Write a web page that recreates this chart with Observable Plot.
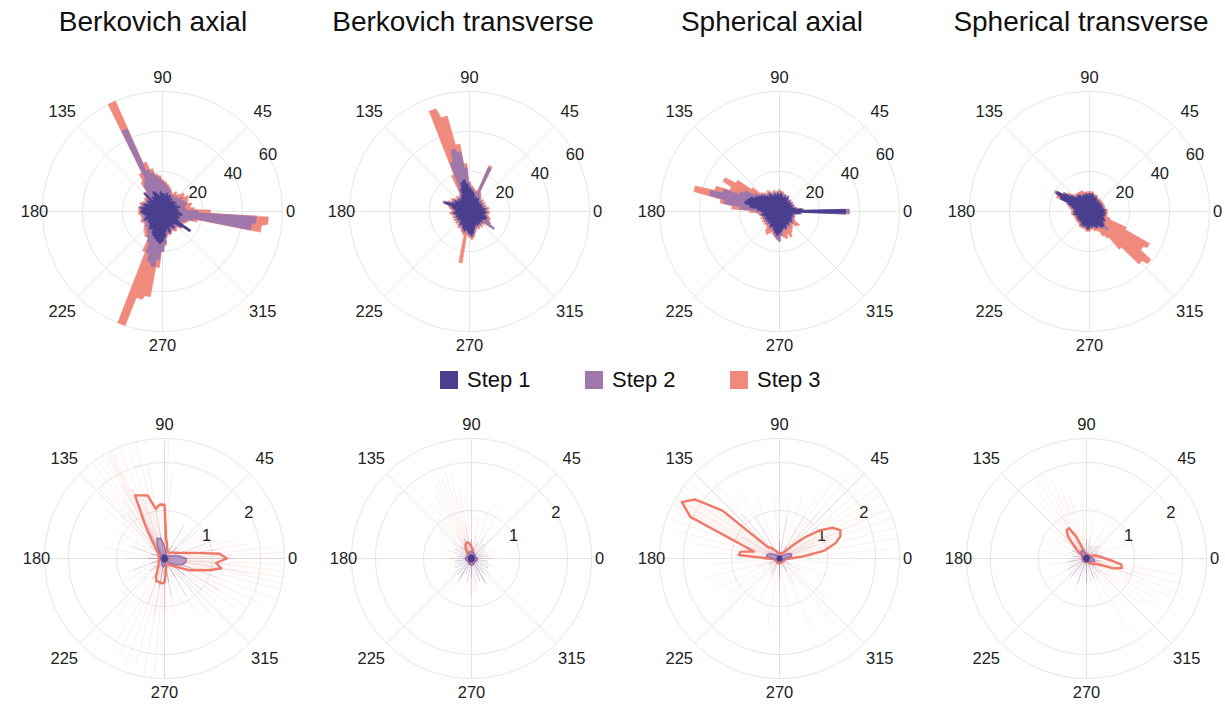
<!DOCTYPE html>
<html><head><meta charset="utf-8">
<script src="https://cdn.jsdelivr.net/npm/d3@7"></script>
<script src="https://cdn.jsdelivr.net/npm/@observablehq/plot@0.6"></script>
<style>
body{margin:0;width:1225px;height:706px;background:#fff;position:relative;overflow:hidden;font-family:"Liberation Sans",Arial,Helvetica,sans-serif;}
.title{position:absolute;top:8px;width:320px;text-align:center;font-size:28px;line-height:28px;color:#111;}
.panel{position:absolute;width:290px;height:290px;}
.lg-sw{position:absolute;top:371px;width:18px;height:18px;}
.lg-tx{position:absolute;top:368px;font-size:22px;line-height:24px;color:#111;}
</style></head><body>
<script>
// ---------- categories / labels ----------
const titles = ["Berkovich axial", "Berkovich transverse", "Spherical axial", "Spherical transverse"];
const steps = ["Step 1", "Step 2", "Step 3"];
const stepColors = ["#4a3e8e", "#a077aa", "#f08a7c"];
const angleTicks = [0, 45, 90, 135, 180, 225, 270, 315];
const topRadialTicks = [20, 40, 60];
const bottomRadialTicks = [1, 2];
const topOuter = 60;
const bottomOuter = 2.5;
const topBinWidth = 5;      // degrees per bar (72 bars)
const bottomStep = 5;       // degrees per outline sample (step 3)
const bottomStepSmall = 10; // degrees per outline sample (steps 1, 2)

// ---------- top row: bar lengths per 5° bin (0..355) ----------
const berkAxialStep1 = [7.5,8,7,9,7,8,6.5,8,7, 7.5,6,8,7,9,8,9.5,8,9, 9,10,8,9,10,11,8,9,7, 13,8,9,7.5,9,10,9,11,10, 11,10,9,8,9,10,8,9,8.5, 9,10,11,10,12,13,14,15,16, 15,13,10,9,11,8,9,10,8, 9,12,17,9,8,9,8,10,9];
const berkAxialStep2 = [18,12,11,12,13,12,11,12,10, 10,9,10,9,10,11,12,13,14, 15,17,18,20,22,45,18,16,12, 11,10,10,9,10,11,10,12,11, 11,11,10,10,10,11,10,10,11, 11,12,13,15,17,22,26,28,24, 20,16,12,11,12,10,10,11,10, 10,12,11,11,12,13,16,45,47];
const berkAxialStep3 = [24,16,14,15,13,14,15,13,14, 12,11,12,10,11,12,13,14,15, 16,18,19,22,26,60,22,18,13, 12,11,11,10,11,12,11,12,12, 12,12,11,11,11,12,11,11,12, 13,14,15,15,22,60,45,43,28, 20,17,13,12,12,11,11,12,11, 11,13,12,12,13,14,18,50,53];

const berkTransStep1 = [8,7,8,6,7,6,7,6,7, 6,7,8,7,8,7,9,10,11, 12,14,16,15,12,9,8,7,8, 7,8,9,8,10,13,9,8,7, 7,8,7,6,7,6,7,6,7, 6,7,8,7,8,9,10,9,10, 11,12,11,9,8,7,8,7,8, 7,8,7,8,9,9,8,7,8];
const berkTransStep2 = [9,8,9,7,8,7,8,7,8, 7,8,9,10,24,10,10,11,12, 14,22,30,32,26,12,9,8,9, 8,9,10,9,11,14,10,9,8, 8,9,8,7,8,7,8,7,8, 7,8,9,8,9,10,11,10,11, 12,13,12,10,9,8,9,8,9, 8,9,15,12,10,10,9,8,9];
const berkTransStep3 = [10,9,10,8,9,8,9,8,9, 8,9,10,11,25,11,11,12,13, 15,24,34,49,54,20,10,9,10, 9,10,11,10,12,14,11,10,9, 9,10,9,8,9,8,9,8,9, 8,9,10,9,10,11,12,26,12, 13,14,13,11,10,9,10,9,10, 9,10,13,11,11,11,10,9,10];

const sphAxialStep1 = [33,11,8,7,6,7,6,7,6, 7,6,7,8,7,8,7,8,9, 8,9,8,9,8,9,10,9,10, 11,12,13,14,16,17,18,15,11, 9,8,9,8,7,8,7,8,7, 8,7,8,9,8,9,10,11,12, 11,10,9,8,9,8,7,8,7, 7,8,7,7,6,7,6,7,10];
const sphAxialStep2 = [35,12,9,8,7,8,7,8,7, 8,7,8,9,8,9,8,9,10, 9,10,9,10,9,10,11,10,11, 12,13,15,20,22,30,36,28,20, 12,9,10,9,8,9,8,9,8, 9,8,9,10,9,10,11,13,14, 15,12,10,9,10,9,8,9,8, 8,9,8,8,7,8,7,8,11];
const sphAxialStep3 = [14,11,9,8,8,8,7,8,7, 8,7,8,9,8,9,9,10,10, 11,10,10,11,10,11,12,11,12, 13,18,26,32,27,34,44,30,24, 15,11,10,9,10,9,10,9,10, 9,10,12,13,12,11,12,12,11, 11,12,13,14,12,14,12,11,10, 9,11,12,9,8,8,8,8,10];

const sphTransStep1 = [7,8,7,6,7,6,7,6,7, 6,7,6,7,8,7,8,9,8, 9,8,9,8,9,8,9,10,9, 10,12,15,19,16,11,9,8,7, 8,7,8,7,6,7,6,7,6, 7,6,7,8,7,8,7,8,9, 8,7,8,7,8,9,8,9,10, 10,9,8,9,8,7,8,7,8];
const sphTransStep2 = [8,8,7,7,7,7,7,7,7, 7,7,7,7,8,8,8,9,9, 9,9,9,9,9,9,10,10,10, 11,13,16,19,16,12,10,9,8, 8,8,8,7,7,7,7,7,7, 7,7,8,8,8,8,8,9,9, 9,8,8,8,9,9,9,10,11, 13,10,9,9,8,8,8,8,8];
const sphTransStep3 = [9,9,8,8,8,8,8,8,8, 8,8,8,8,9,9,9,10,10, 10,10,10,10,11,11,11,11,11, 12,14,16,20,18,12,11,10,9, 9,9,9,8,8,8,8,8,8, 8,8,9,9,9,9,9,10,10, 10,9,9,10,10,11,14,16,24, 36,39,32,34,20,11,9,9,9];

// ---------- bottom row: mean outlines ----------
// step 3: every 5° (0..355)
const berkAxialMean3 = [1.30,1.15,0.67,0.45,0.34,0.28,0.24,0.21,0.19, 0.17,0.16,0.15,0.15,0.16,0.18,0.22,0.30,0.40, 1.12,1.13,1.05,1.36,1.40,1.45,0.80,0.45,0.28, 0.22,0.18,0.16,0.14,0.13,0.12,0.12,0.12,0.12, 0.12,0.12,0.12,0.12,0.13,0.13,0.14,0.15,0.16, 0.17,0.20,0.25,0.30,0.42,0.50,0.50,0.51,0.52, 0.50,0.30,0.20,0.16,0.14,0.14,0.15,0.16,0.18, 0.20,0.24,0.30,0.40,0.58,0.70,0.95,1.20,1.08];
const berkTransMean3 = [0.10,0.09,0.08,0.08,0.08,0.08,0.08,0.08,0.08, 0.08,0.08,0.09,0.09,0.10,0.11,0.13,0.16,0.20, 0.24,0.29,0.33,0.35,0.34,0.30,0.24,0.16,0.11, 0.10,0.09,0.09,0.08,0.08,0.08,0.08,0.08,0.08, 0.08,0.08,0.08,0.08,0.08,0.08,0.08,0.08,0.08, 0.08,0.08,0.08,0.08,0.09,0.10,0.11,0.12,0.13, 0.13,0.12,0.10,0.09,0.08,0.08,0.08,0.08,0.08, 0.08,0.08,0.08,0.08,0.08,0.08,0.09,0.09,0.10];
const sphAxialMean3 = [0.22,0.50,0.95,1.20,1.35,1.40,1.28,1.02,0.68, 0.38,0.22,0.16,0.13,0.12,0.11,0.11,0.11,0.11, 0.11,0.11,0.12,0.13,0.15,0.17,0.20,0.25,0.30, 0.32,1.55,2.15,2.35,2.05,0.85,0.55,0.82,0.85, 0.25,0.12,0.10,0.10,0.09,0.09,0.09,0.09,0.09, 0.09,0.09,0.09,0.09,0.10,0.10,0.10,0.10,0.10, 0.10,0.10,0.10,0.09,0.09,0.09,0.09,0.09,0.09, 0.09,0.09,0.10,0.10,0.10,0.10,0.11,0.12,0.15];
const sphTransMean3 = [0.39,0.31,0.26,0.22,0.18,0.14,0.11,0.10,0.09, 0.09,0.08,0.08,0.08,0.08,0.08,0.09,0.09,0.10, 0.10,0.11,0.12,0.12,0.20,0.50,0.73,0.72,0.60, 0.36,0.24,0.14,0.11,0.10,0.09,0.09,0.08,0.08, 0.08,0.08,0.08,0.08,0.08,0.08,0.08,0.08,0.08, 0.08,0.08,0.08,0.08,0.08,0.08,0.08,0.08,0.08, 0.08,0.08,0.08,0.08,0.08,0.09,0.10,0.12,0.14, 0.16,0.18,0.20,0.22,0.30,0.60,0.76,0.74,0.54];
// steps 2 and 1: every 10° (0..350)
const berkAxialMean2 = [0.45,0.30,0.15,0.10,0.08,0.08,0.08,0.10,0.15, 0.25,0.42,0.45,0.30,0.15,0.10,0.08,0.08,0.08, 0.08,0.08,0.08,0.08,0.08,0.10,0.12,0.15,0.18, 0.15,0.10,0.08,0.08,0.10,0.15,0.25,0.38,0.45];
const berkTransMean2 = [0.12,0.10,0.09,0.09,0.10,0.10,0.11,0.12,0.13, 0.14,0.15,0.14,0.12,0.11,0.10,0.10,0.11,0.12, 0.13,0.12,0.11,0.10,0.10,0.10,0.11,0.12,0.13, 0.14,0.13,0.12,0.11,0.10,0.10,0.11,0.12,0.12];
const sphAxialMean2 = [0.12,0.25,0.27,0.20,0.10,0.07,0.06,0.06,0.06, 0.06,0.06,0.06,0.07,0.08,0.12,0.20,0.26,0.28, 0.15,0.07,0.06,0.06,0.06,0.06,0.06,0.06,0.06, 0.07,0.07,0.06,0.06,0.06,0.06,0.06,0.07,0.08];
const sphTransMean2 = [0.14,0.10,0.08,0.07,0.07,0.07,0.07,0.07,0.08, 0.08,0.09,0.12,0.20,0.18,0.12,0.09,0.08,0.07, 0.07,0.07,0.07,0.07,0.07,0.07,0.07,0.07,0.07, 0.07,0.07,0.08,0.08,0.09,0.10,0.12,0.18,0.16];
const berkAxialMean1 = [0.07,0.06,0.06,0.05,0.06,0.05,0.06,0.06,0.07, 0.07,0.08,0.08,0.07,0.06,0.06,0.05,0.06,0.06, 0.06,0.05,0.06,0.05,0.06,0.06,0.07,0.07,0.08, 0.07,0.06,0.06,0.05,0.06,0.06,0.07,0.07,0.07];
const berkTransMean1 = [0.06,0.06,0.07,0.06,0.06,0.07,0.07,0.06,0.07, 0.07,0.08,0.07,0.07,0.06,0.06,0.07,0.06,0.06, 0.07,0.06,0.06,0.07,0.06,0.07,0.07,0.08,0.07, 0.07,0.06,0.07,0.06,0.06,0.07,0.06,0.06,0.06];
const sphAxialMean1 = [0.05,0.05,0.05,0.05,0.05,0.04,0.05,0.05,0.05, 0.05,0.05,0.05,0.05,0.05,0.05,0.05,0.05,0.05, 0.05,0.05,0.05,0.04,0.05,0.05,0.05,0.05,0.05, 0.05,0.05,0.05,0.05,0.05,0.05,0.05,0.05,0.05];
const sphTransMean1 = [0.06,0.06,0.06,0.05,0.06,0.06,0.06,0.06,0.06, 0.06,0.06,0.06,0.07,0.06,0.06,0.06,0.06,0.06, 0.06,0.06,0.06,0.06,0.06,0.06,0.06,0.06,0.06, 0.06,0.06,0.06,0.06,0.06,0.06,0.06,0.06,0.06];

// ---------- bottom row: individual traces [angle°, length] ----------
const berkAxialRays3 = [[0,2.5],[3,2.55],[6,2.3],[10,1.8],[15,1.5],[20,1.2],[30,1.0],[45,0.7],[60,0.8],[85,1.8],[88,2.5],[90,2.3],[100,2.0],[104,2.5],[108,2.3],[112,2.55],[116,2.55],[117,2.6],[118,2.6],[119,2.6],[121,2.5],[124,2.4],[127,2.55],[130,2.3],[133,2.0],[140,1.6],[150,1.2],[160,1.0],[170,1.3],[200,0.8],[210,0.9],[220,1.2],[230,1.6],[240,2.0],[245,2.2],[250,2.4],[255,2.3],[260,2.5],[265,2.5],[268,2.0],[270,2.5],[272,1.8],[280,1.2],[290,1.0],[300,1.3],[310,0.9],[320,1.4],[325,1.8],[330,2.0],[335,2.3],[340,2.5],[345,2.55],[348,2.5],[351,2.55],[354,2.55],[357,2.4]];
const berkAxialRays2 = [[0,1.5],[10,1.1],[20,0.9],[40,0.9],[60,0.8],[90,1.0],[100,1.2],[110,1.4],[115,1.6],[120,1.8],[125,1.5],[130,1.2],[160,0.7],[180,0.8],[200,0.7],[250,1.0],[260,1.2],[270,1.1],[280,0.8],[300,0.9],[310,1.5],[320,1.0],[330,1.3],[340,1.2],[350,1.8],[355,1.4]];
const berkAxialRays1 = [[0,0.5],[20,0.4],[40,0.35],[60,0.3],[80,0.4],[100,0.5],[120,0.6],[140,0.4],[160,0.3],[180,0.35],[200,0.3],[220,0.4],[240,0.5],[260,0.6],[280,0.5],[300,0.45],[320,0.55],[340,0.6]];

const berkTransRays3 = [[0,0.45],[20,0.5],[45,0.7],[60,1.2],[70,1.1],[80,0.9],[90,1.2],[95,1.4],[100,1.5],[104,1.8],[107,1.9],[110,1.8],[113,1.9],[116,1.7],[120,1.5],[125,1.3],[130,1.1],[140,0.9],[160,0.6],[180,0.5],[200,0.45],[220,0.5],[240,0.7],[260,0.6],[268,0.8],[270,0.8],[275,0.7],[300,0.6],[320,0.5],[340,0.5]];
const berkTransRays2 = [[0,0.4],[20,0.35],[40,0.4],[60,0.5],[80,0.5],[100,0.7],[120,0.6],[140,0.5],[160,0.4],[180,0.45],[200,0.35],[220,0.5],[240,0.45],[260,0.5],[280,0.6],[300,0.55],[320,0.5],[340,0.4]];
const berkTransRays1 = [[10,0.35],[30,0.3],[50,0.4],[70,0.35],[90,0.4],[110,0.45],[130,0.35],[150,0.4],[170,0.3],[190,0.35],[210,0.4],[230,0.45],[240,0.55],[250,0.35],[270,0.4],[290,0.5],[300,0.6],[310,0.45],[330,0.4],[350,0.35]];

const sphAxialRays3 = [[5,2.3],[10,2.55],[15,2.55],[20,2.55],[24,2.6],[25,2.6],[28,2.55],[32,2.55],[36,2.5],[40,2.4],[45,2.5],[50,2.3],[55,2.0],[60,1.6],[70,1.4],[80,1.2],[95,1.3],[110,1.4],[120,1.7],[130,2.2],[135,2.55],[140,2.55],[143,2.5],[146,2.55],[150,2.55],[153,2.5],[156,2.55],[160,2.4],[165,2.2],[170,1.8],[175,1.5],[185,1.4],[195,1.6],[205,1.5],[215,1.3],[230,1.2],[245,1.0],[260,1.4],[270,1.5],[280,1.2],[295,1.6],[310,1.8],[320,1.3],[340,1.1],[355,1.5]];
const sphAxialRays2 = [[20,0.8],[30,0.9],[40,1.1],[50,1.3],[60,1.0],[80,0.9],[90,0.6],[120,1.0],[130,1.2],[140,1.1],[150,0.9],[160,0.8],[200,0.5],[250,0.5],[270,0.7],[300,0.6],[330,0.5]];
const sphAxialRays1 = [[0,0.3],[30,0.25],[60,0.3],[90,0.35],[120,0.3],[150,0.25],[180,0.3],[210,0.25],[240,0.35],[270,0.4],[300,0.3],[330,0.25]];

const sphTransRays3 = [[0,1.4],[20,0.9],[40,0.7],[60,0.8],[80,1.0],[95,1.2],[105,1.4],[110,1.6],[114,1.8],[118,2.0],[122,1.9],[126,1.7],[130,1.5],[135,1.3],[140,1.0],[150,0.9],[170,1.0],[190,0.8],[210,0.9],[230,0.6],[250,0.7],[270,0.8],[290,0.9],[300,1.7],[310,1.2],[320,1.5],[325,1.8],[330,1.6],[335,1.9],[340,2.0],[345,2.1],[350,1.9]];
const sphTransRays2 = [[0,0.4],[20,0.35],[40,0.4],[60,0.3],[80,0.45],[100,0.5],[120,1.0],[140,0.6],[160,0.4],[180,0.35],[200,0.4],[220,0.5],[240,0.45],[260,0.5],[280,0.55],[300,0.5],[320,0.6],[340,1.0]];
const sphTransRays1 = [[10,0.35],[30,0.3],[50,0.35],[70,0.3],[90,0.4],[110,0.35],[130,0.4],[150,0.35],[170,0.3],[190,0.4],[210,0.45],[230,0.5],[250,0.55],[270,0.5],[290,0.45],[310,0.4],[330,0.35],[350,0.3]];

// ---------- assemble ----------
const topSeries = [
  [berkAxialStep1, berkAxialStep2, berkAxialStep3],
  [berkTransStep1, berkTransStep2, berkTransStep3],
  [sphAxialStep1, sphAxialStep2, sphAxialStep3],
  [sphTransStep1, sphTransStep2, sphTransStep3]
];
const bottomMeans = [
  [berkAxialMean1, berkAxialMean2, berkAxialMean3],
  [berkTransMean1, berkTransMean2, berkTransMean3],
  [sphAxialMean1, sphAxialMean2, sphAxialMean3],
  [sphTransMean1, sphTransMean2, sphTransMean3]
];
const bottomRays = [
  [berkAxialRays1, berkAxialRays2, berkAxialRays3],
  [berkTransRays1, berkTransRays2, berkTransRays3],
  [sphAxialRays1, sphAxialRays2, sphAxialRays3],
  [sphTransRays1, sphTransRays2, sphTransRays3]
];

const topCenters = [[162,211],[469,211],[779,211],[1089,211]];
const bottomCenters = [[164,558],[471,558],[779,558],[1086,558]];
const titleCenters = [153, 463, 772, 1081];
const half = 145, ringPx = 120;
const deg = Math.PI / 180;
const FONT = "'Liberation Sans', Arial, Helvetica, sans-serif";
const GRID = "#e6e6e6";
const LABEL_SIZE = 16.5;
const px = d => d.r * Math.cos(d.a * deg);
const py = d => d.r * Math.sin(d.a * deg);

function gridMarks(rings, outer, k) {
  const allRings = rings.includes(outer) ? rings : rings.concat([outer]);
  const circ = allRings.flatMap(t => d3.range(0, 360, 2).map(a => ({ring: t, a, r: t})));
  const labR = a => (134 + 12 * Math.abs(Math.sin(2 * a * deg)) - 6 * Math.abs(Math.cos(a * deg))) / k;
  return [
    Plot.line(circ, {x: px, y: py, z: "ring", curve: "linear-closed", stroke: GRID, strokeWidth: 1}),
    Plot.link(angleTicks, {x1: 0, y1: 0, x2: a => outer * Math.cos(a * deg), y2: a => outer * Math.sin(a * deg), stroke: GRID, strokeWidth: 1}),
    Plot.text(angleTicks, {x: a => labR(a) * Math.cos(a * deg), y: a => labR(a) * Math.sin(a * deg), text: a => String(a), fontSize: LABEL_SIZE, fill: "#222", fontFamily: FONT})
  ];
}
function radialLabels(rings) {
  return Plot.text(rings, {x: t => t * Math.cos(28.5 * deg), y: t => t * Math.sin(28.5 * deg), text: t => String(t), fontSize: LABEL_SIZE, fill: "#222", fontFamily: FONT});
}
function makePlot(D, marks) {
  return Plot.plot({
    width: 2 * half, height: 2 * half, margin: 0,
    x: {domain: [-D, D], axis: null}, y: {domain: [-D, D], axis: null},
    style: {background: "transparent", fontFamily: FONT},
    marks
  });
}
function place(node, cx, cy) {
  const d = document.createElement("div");
  d.className = "panel";
  d.style.left = (cx - half) + "px";
  d.style.top = (cy - half) + "px";
  d.appendChild(node);
  document.body.appendChild(d);
}

// titles
titles.forEach((t, i) => {
  const d = document.createElement("div");
  d.className = "title"; d.textContent = t;
  d.style.left = (titleCenters[i] - 160) + "px";
  document.body.appendChild(d);
});

// top row: overlaid polar bars, step 3 behind, step 1 in front
topSeries.forEach((series, p) => {
  const k = ringPx / topOuter;
  const D = half / k;
  const marks = [...gridMarks(topRadialTicks, topOuter, k), radialLabels(topRadialTicks)];
  [2, 1, 0].forEach(s => {
    const pts = series[s].flatMap((v, i) => [
      {a: i * topBinWidth - topBinWidth / 2 + 0.6, r: v},
      {a: i * topBinWidth + topBinWidth / 2 - 0.6, r: v}
    ]);
    marks.push(Plot.line(pts, {x: px, y: py, curve: "linear-closed", fill: stepColors[s], stroke: stepColors[s], strokeWidth: 0.6}));
  });
  place(makePlot(D, marks), ...topCenters[p]);
});

// bottom row: individual traces + mean outlines
const rayOpacity = [0.35, 0.2, 0.15];
bottomMeans.forEach((means, p) => {
  const k = ringPx / bottomOuter;
  const D = half / k;
  const marks = [...gridMarks(bottomRadialTicks, bottomOuter, k), radialLabels(bottomRadialTicks)];
  [2, 1, 0].forEach(s => {
    marks.push(Plot.link(bottomRays[p][s], {
      x1: 0, y1: 0,
      x2: d => Math.min(d[1], bottomOuter) * Math.cos(d[0] * deg),
      y2: d => Math.min(d[1], bottomOuter) * Math.sin(d[0] * deg),
      stroke: stepColors[s], strokeOpacity: rayOpacity[s], strokeWidth: s === 0 ? 0.8 : 1
    }));
  });
  const m3 = means[2].map((v, i) => ({a: i * bottomStep, r: v}));
  const m2 = means[1].map((v, i) => ({a: i * bottomStepSmall, r: v}));
  const m1 = means[0].map((v, i) => ({a: i * bottomStepSmall, r: v}));
  marks.push(Plot.line(m3, {x: px, y: py, curve: "linear-closed", fill: "#f08a7c", fillOpacity: 0.06, stroke: "#ef7866", strokeWidth: 2.4}));
  marks.push(Plot.line(m2, {x: px, y: py, curve: "linear-closed", fill: "#a889b8", fillOpacity: 0.75, stroke: "#9a70a6", strokeWidth: 1.5}));
  marks.push(Plot.line(m1, {x: px, y: py, curve: "linear-closed", fill: "#4a3e8e", stroke: "#4a3e8e", strokeWidth: 1.2}));
  place(makePlot(D, marks), ...bottomCenters[p]);
});

// legend
const legendX = [440, 585, 730];
steps.forEach((s, i) => {
  const sw = document.createElement("div");
  sw.className = "lg-sw"; sw.style.left = legendX[i] + "px"; sw.style.background = stepColors[i];
  const tx = document.createElement("div");
  tx.className = "lg-tx"; tx.style.left = (legendX[i] + 27) + "px"; tx.textContent = s;
  document.body.appendChild(sw); document.body.appendChild(tx);
});
</script>
</body></html>
